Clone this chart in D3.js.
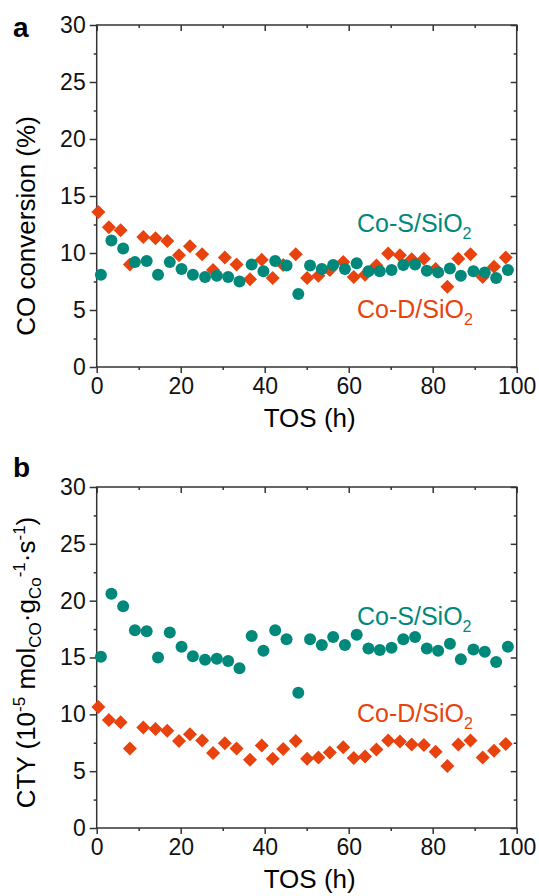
<!DOCTYPE html>
<html>
<head>
<meta charset="utf-8">
<script src="https://cdn.jsdelivr.net/npm/d3@7"></script>
<style>
  body { margin: 0; background: #fff; }
  svg text { font-family: "Liberation Sans", Arial, sans-serif; }
</style>
</head>
<body>
<div id="chart"></div>
<script>
// TOS (h) of each measurement
const tosD = [0.4, 2.9, 5.7, 7.9, 11.1, 14.0, 16.8, 19.6, 22.2, 25.1, 27.7, 30.5, 33.3, 36.5, 39.3, 41.9, 44.4, 47.4,
              50.1, 52.8, 55.5, 58.7, 61.2, 63.9, 66.6, 69.4, 72.2, 75.0, 77.9, 80.7, 83.5, 86.1, 89.0, 91.9, 94.6, 97.4];
const tosS = [1.0, 3.5, 6.3, 9.1, 11.9, 14.6, 17.4, 20.2, 22.9, 25.8, 28.6, 31.3, 34.0, 36.9, 39.7, 42.5, 45.2, 48.0,
              50.8, 53.6, 56.3, 59.1, 61.9, 64.7, 67.4, 70.2, 73.0, 75.8, 78.6, 81.3, 84.1, 86.7, 89.7, 92.4, 95.1, 97.9];

// panel a: CO conversion (%)
const convD = [13.6, 12.25, 12.0, 9.0, 11.4, 11.3, 11.05, 9.8, 10.6, 9.9, 8.5, 9.6, 9.0, 7.7, 9.4, 7.8, 8.95, 9.9,
               7.8, 8.0, 8.5, 9.2, 7.9, 8.1, 8.9, 9.95, 9.8, 9.45, 9.5, 8.6, 7.05, 9.5, 9.9, 7.9, 8.8, 9.6];
const convS = [8.1, 11.1, 10.4, 9.2, 9.3, 8.1, 9.2, 8.6, 8.1, 7.9, 8.0, 7.9, 7.5, 9.0, 8.4, 9.3, 8.9, 6.4,
               8.9, 8.6, 8.95, 8.6, 9.1, 8.4, 8.4, 8.5, 8.95, 9.0, 8.45, 8.3, 8.65, 8.0, 8.4, 8.3, 7.8, 8.5];

// panel b: CTY (10^-5 mol_CO g_Co^-1 s^-1)
const ctyD = [10.65, 9.5, 9.3, 7.0, 8.85, 8.7, 8.55, 7.65, 8.25, 7.7, 6.6, 7.45, 7.0, 6.0, 7.25, 6.1, 6.95, 7.65,
              6.1, 6.2, 6.65, 7.1, 6.15, 6.3, 6.9, 7.7, 7.6, 7.35, 7.3, 6.7, 5.45, 7.35, 7.7, 6.2, 6.8, 7.4];
const ctyS = [15.07, 20.6, 19.5, 17.4, 17.3, 15.0, 17.2, 15.95, 15.1, 14.8, 14.9, 14.7, 14.05, 16.9, 15.6, 17.4, 16.6, 11.9,
              16.6, 16.1, 16.8, 16.1, 17.0, 15.8, 15.65, 15.85, 16.6, 16.8, 15.8, 15.6, 16.2, 14.85, 15.7, 15.5, 14.6, 15.95];

const xTicks = [0, 20, 40, 60, 80, 100];
const yTicks = [0, 5, 10, 15, 20, 25, 30];

const teal = "#00897b", red = "#e8430e", axisColor = "#333";
const width = 539, height = 896;
const left = 96.7, right = 516.7;

const svg = d3.select("#chart").append("svg")
    .attr("width", width)
    .attr("height", height);

const x = d3.scaleLinear().domain([0, 100]).range([left, right]);

const panels = [
  {letter: "a", top: 25, bottom: 367, letterY: 37, d: convD, s: convS, sY: 232, dY: 318, title: "conv"},
  {letter: "b", top: 487, bottom: 828, letterY: 477, d: ctyD, s: ctyS, sY: 625, dY: 722, title: "cty"}
];

panels.forEach(p => {
  const y = d3.scaleLinear().domain([0, 30]).range([p.bottom, p.top]);
  const g = svg.append("g");

  // frame
  g.append("rect")
    .attr("x", left).attr("y", p.top)
    .attr("width", right - left).attr("height", p.bottom - p.top)
    .attr("fill", "none").attr("stroke", axisColor).attr("stroke-width", 1.5);

  // axes: ticks outward on left/bottom, inward on top/right
  const styleAxis = (sel) => {
    sel.select(".domain").remove();
    sel.selectAll("line").attr("stroke", axisColor).attr("stroke-width", 1.5);
    sel.selectAll("text").attr("font-size", 23).attr("fill", "#111");
  };
  const minorX = d3.range(10, 100, 20), minorY = d3.range(2.5, 30, 5);

  g.append("g").attr("transform", `translate(0,${p.bottom})`)
    .call(d3.axisBottom(x).tickValues(xTicks).tickSize(6).tickPadding(5))
    .call(styleAxis);
  g.append("g").attr("transform", `translate(0,${p.bottom})`)
    .call(d3.axisBottom(x).tickValues(minorX).tickSize(3).tickFormat(""))
    .call(styleAxis);
  g.append("g").attr("transform", `translate(0,${p.top})`)
    .call(d3.axisBottom(x).tickValues(xTicks).tickSize(6).tickFormat(""))
    .call(styleAxis);
  g.append("g").attr("transform", `translate(0,${p.top})`)
    .call(d3.axisBottom(x).tickValues(minorX).tickSize(3).tickFormat(""))
    .call(styleAxis);

  g.append("g").attr("transform", `translate(${left},0)`)
    .call(d3.axisLeft(y).tickValues(yTicks).tickSize(7).tickPadding(4))
    .call(styleAxis);
  g.append("g").attr("transform", `translate(${left},0)`)
    .call(d3.axisLeft(y).tickValues(minorY).tickSize(3).tickFormat(""))
    .call(styleAxis);
  g.append("g").attr("transform", `translate(${right},0)`)
    .call(d3.axisLeft(y).tickValues(yTicks).tickSize(6).tickFormat(""))
    .call(styleAxis);
  g.append("g").attr("transform", `translate(${right},0)`)
    .call(d3.axisLeft(y).tickValues(minorY).tickSize(3).tickFormat(""))
    .call(styleAxis);

  // Co-D diamonds underneath, Co-S circles on top
  const diamond = d3.symbol().type(d3.symbolDiamond2).size(125);
  g.append("g").selectAll("path")
    .data(p.d.map((v, i) => [tosD[i], v]))
    .join("path")
      .attr("d", diamond)
      .attr("transform", d => `translate(${x(d[0])},${y(d[1])})`)
      .attr("fill", red);

  g.append("g").selectAll("circle")
    .data(p.s.map((v, i) => [tosS[i], v]))
    .join("circle")
      .attr("cx", d => x(d[0]))
      .attr("cy", d => y(d[1]))
      .attr("r", 6)
      .attr("fill", teal);

  // series labels
  [[p.sY, "Co-S/SiO", teal], [p.dY, "Co-D/SiO", red]].forEach(([ly, txt, col]) => {
    const t = g.append("text").attr("x", 357).attr("y", ly)
      .attr("font-size", 25).attr("fill", col);
    t.append("tspan").text(txt);
    t.append("tspan").attr("font-size", 16).attr("dy", 7).text("2");
  });

  // panel letter
  g.append("text").attr("x", 13).attr("y", p.letterY)
    .attr("font-size", 28).attr("font-weight", "bold").text(p.letter);

  // x title
  g.append("text").attr("x", (left + right) / 2 + 3).attr("y", p.bottom + 60)
    .attr("text-anchor", "middle").attr("font-size", 26).text("TOS (h)");

  // y title
  const yt = g.append("text")
    .attr("transform", `translate(35,${(p.top + p.bottom) / 2 + (p.title === "conv" ? 30 : 5)}) rotate(-90)`)
    .attr("text-anchor", "middle").attr("font-size", 26);
  if (p.title === "conv") {
    yt.text("CO conversion (%)");
  } else {
    yt.append("tspan").text("CTY (10");
    yt.append("tspan").attr("font-size", 17).attr("dy", -10).text("-5");
    yt.append("tspan").attr("dy", 10).text(" mol");
    yt.append("tspan").attr("font-size", 17).attr("dy", 6).text("CO");
    yt.append("tspan").attr("dy", -6).text("·g");
    yt.append("tspan").attr("font-size", 17).attr("dy", 6).text("Co");
    yt.append("tspan").attr("font-size", 17).attr("dy", -16).text("-1");
    yt.append("tspan").attr("dy", 10).text("·s");
    yt.append("tspan").attr("font-size", 17).attr("dy", -10).text("-1");
    yt.append("tspan").attr("dy", 10).text(")");
  }
});
</script>
</body>
</html>
